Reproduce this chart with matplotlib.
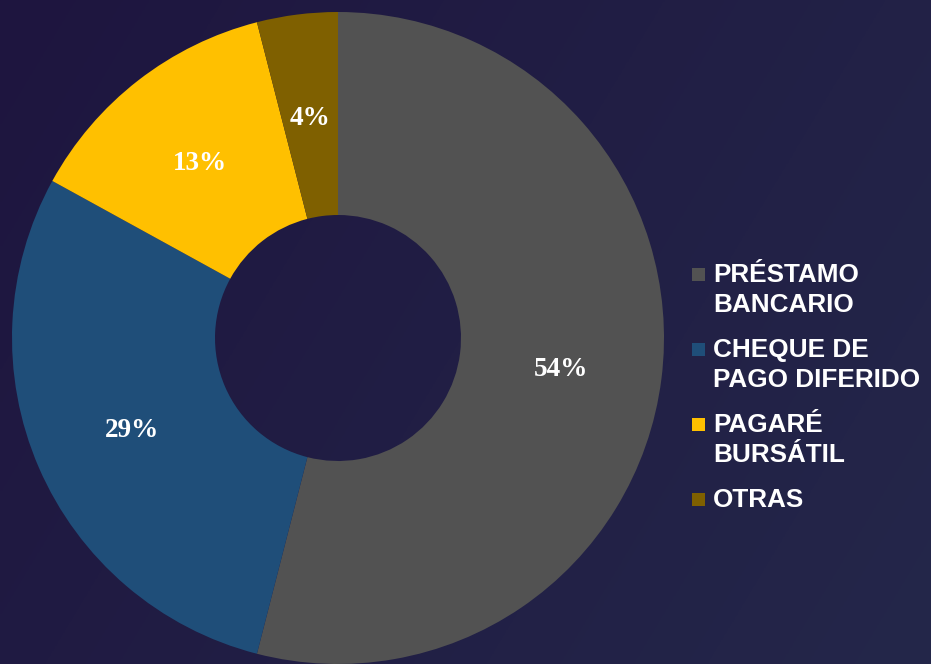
import numpy as np
import matplotlib
matplotlib.use("Agg")
import matplotlib.pyplot as plt
from matplotlib.patches import Rectangle

# data
categories = ["PRÉSTAMO\nBANCARIO", "CHEQUE DE\nPAGO DIFERIDO", "PAGARÉ\nBURSÁTIL", "OTRAS"]
shares = [54, 29, 13, 4]
colors = ["#525252", "#1f4e79", "#ffc000", "#7f6000"]

W, H = 931, 664
fig = plt.figure(figsize=(W / 100, H / 100), dpi=100)

# dark background, slightly lighter toward the right
bg = fig.add_axes([0, 0, 1, 1])
gx = np.linspace(0, 1, 256)
gy = np.linspace(0, 1, 256)
GX, GY = np.meshgrid(gx, gy)
t = 0.7 * GX + 0.3 * GY
c0 = np.array([30, 21, 63]) / 255.0
c1 = np.array([36, 39, 74]) / 255.0
img = c0[None, None, :] * (1 - t[..., None]) + c1[None, None, :] * t[..., None]
bg.imshow(img, aspect="auto", extent=[0, 1, 0, 1], origin="upper")
bg.axis("off")

# donut, centre at (338, 338) px, outer radius 326 px, hole 123 px
R = 326 / 331.0
ax = fig.add_axes([(338 - 331) / W, (H - 338 - 331) / H, 662 / W, 662 / H])
ring = 1 - 123 / 326

wedges, _, autotexts = ax.pie(shares, colors=colors, startangle=90, counterclock=False,
                              radius=R, autopct="%d%%", pctdistance=1 - ring / 2,
                              wedgeprops=dict(width=ring * R, edgecolor="none"),
                              textprops=dict(color="white", fontsize=19.5, fontweight="bold",
                                             family="Liberation Serif"))
for at in autotexts:
    x, y = at.get_position()
    at.set_position((x, y - 0.009))
ax.set_xlim(-1, 1)
ax.set_ylim(-1, 1)
ax.set_aspect("equal")

# legend drawn by hand so the spacing matches
for i, (lab, col) in enumerate(zip(categories, colors)):
    top = 268 + 75 * i
    fig.patches.append(Rectangle((692 / W, 1 - (top + 13) / H), 13 / W, 13 / H,
                                 transform=fig.transFigure, facecolor=col, edgecolor="none"))
    for j, line in enumerate(lab.split("\n")):
        fig.text(713 / W, 1 - (282 + 75 * i + 30 * j) / H, line, color="white",
                 fontsize=18.8, fontweight="bold", family="Liberation Sans", va="baseline")

fig.savefig("out.png", dpi=100)
